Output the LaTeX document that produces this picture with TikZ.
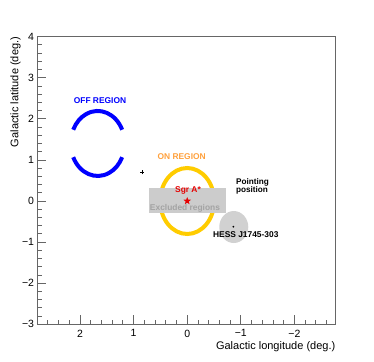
\documentclass[tikz,border=0pt]{standalone}
\usepackage{fontspec}
\setmainfont{Liberation Sans}
\usetikzlibrary{shapes.geometric}

\definecolor{onyellow}{RGB}{255,204,0}
\definecolor{onorange}{RGB}{255,160,60}
\definecolor{offblue}{RGB}{0,0,255}
\definecolor{sgrred}{RGB}{230,0,0}

\begin{document}
\begin{tikzpicture}[x=-53.6pt,y=41.1pt,line width=0.8pt,
  axisline/.style={draw=black!60,line width=0.8pt},
  ticklabel/.style={inner sep=0pt,font=\fontsize{10.5}{12}\selectfont},
  axistitle/.style={inner sep=0pt,font=\fontsize{11}{13}\selectfont},
  regionlabel/.style={inner sep=0pt,font=\fontsize{8.4}{9}\selectfont\bfseries}]
  \useasboundingbox (3.4925,4.8905) rectangle (-3.4851,-3.8929);
  % frame and ticks
  \draw[axisline] (2.8,-3) rectangle (-2.77,4);
  \foreach \i in {0,...,35}{
    \draw[axisline] (2.8,-3+\i*0.2) -- ++(4.5pt,0);}
  \foreach \b/\t in {4/4,3/3,2/2,1/1,0/0,-1/{−1},-2/{−2},-3/{−3}}{
    \draw[axisline] (2.8,\b) -- ++(9pt,0);
    \node[ticklabel,anchor=east] (ylab\b) at ([xshift=-2.7pt]2.8,\b) {\t};}
  \foreach \i in {-13,...,13}{
    \draw[axisline] (\i*0.2,-3) -- ++(0,4.5pt);}
  \foreach \l/\t in {2/2,1/1,0/0,-1/{−1},-2/{−2}}{
    \draw[axisline] (\l,-3) -- ++(0,9pt);
    \node[ticklabel,anchor=north] (xlab\l) at ([yshift=-5pt]\l,-3) {\t};}
  \node[axistitle,anchor=north east] (xtitle) at ([yshift=-17pt]-2.77,-3)
       {Galactic longitude (deg.)};
  \node[axistitle,rotate=90,anchor=east] (ytitle) at (3.203,4)
       {Galactic latitude (deg.)};
  % off region
  \coordinate (offc) at (1.67,1.40);
  \draw[offblue,line width=4pt] (offc) ++(25:27pt and 32.5pt)
       arc[start angle=25,end angle=155,x radius=27pt,y radius=32.5pt];
  \draw[offblue,line width=4pt] (offc) ++(205:27pt and 32.5pt)
       arc[start angle=205,end angle=335,x radius=27pt,y radius=32.5pt];
  \node[regionlabel,text=offblue] (offlabel) at (1.627,2.433) {OFF REGION};
  % on region and excluded box
  \coordinate (onc) at (0,0);
  \draw[onyellow,line width=4pt] (onc) ellipse[x radius=27pt,y radius=33pt];
  \fill[black!20] (0.713,0.316) rectangle (-0.724,-0.292);
  \node[regionlabel,text=onorange] (onlabel) at (0.103,1.078) {ON REGION};
  \node[regionlabel,text=sgrred] (sgrlabel) at (-0.015,0.268) {Sgr A*};
  \node[star,star points=5,star point ratio=2.4,minimum size=8pt,inner sep=0pt,
        fill=sgrred] (sgr) at (onc) {};
  \node[regionlabel,text=black!36] (exclabel) at (0.041,-0.170) {Excluded regions};
  % pointing position
  \node[draw=none] (pointing) at (0.838,0.698) {};
  \draw[black,line width=1pt] (pointing.center) ++(-2pt,0) -- ++(4pt,0)
       (pointing.center) ++(0,-2pt) -- ++(0,4pt);
  \node[regionlabel,anchor=west,align=left,
        font=\fontsize{8.2}{8.8}\selectfont\bfseries] (pointlabel)
       at (-0.905,0.358) {Pointing\\position};
  % hess source
  \fill[black!18] (-0.869,-0.633) ellipse[x radius=14.5pt,y radius=16pt];
  \fill[black] (-0.860,-0.626) circle (1pt) coordinate (hess);
  \node[regionlabel,text=black] (hesslabel) at (-1.093,-0.827) {HESS J1745-303};
\end{tikzpicture}
\end{document}
